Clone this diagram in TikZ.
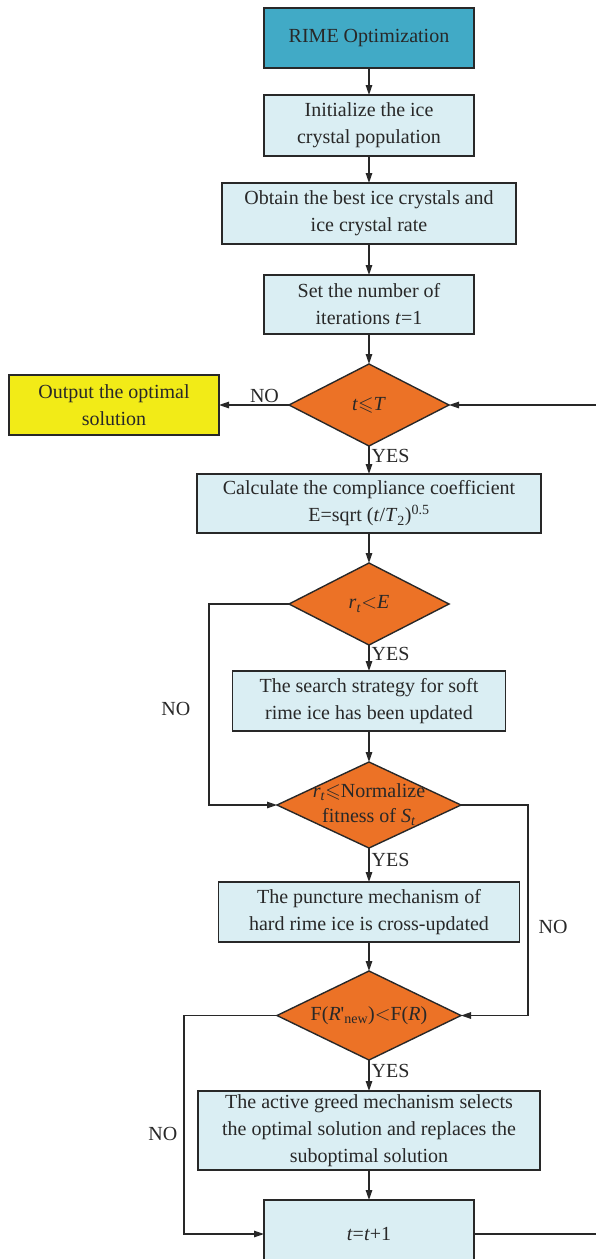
\documentclass[tikz,border=0pt]{standalone}
\usepackage{fontspec}
\setmainfont{Liberation Serif}
\usepackage{amsmath,amssymb}
\usetikzlibrary{positioning, arrows.meta, shapes.geometric}
\definecolor{rime}{RGB}{65,170,198}
\definecolor{pale}{RGB}{218,238,243}
\definecolor{flame}{RGB}{236,114,38}
\definecolor{lemon}{RGB}{242,235,23}
\definecolor{ink}{RGB}{40,40,40}

\begin{document}
\begin{tikzpicture}[
  x=1pt, y=1pt,
  node distance=29pt and 70pt,
  box/.style={draw=ink, fill=pale, line width=1.4pt, outer sep=0pt,
              minimum width=210pt, minimum height=60pt, inner sep=0pt,
              font=\fontsize{20}{27}\selectfont, align=center, text=ink},
  startbox/.style={box, fill=rime},
  endbox/.style={box, fill=lemon},
  decision/.style={diamond, draw=ink, fill=flame, line width=1.4pt, outer sep=0pt,
                   inner sep=0pt, minimum width=160pt, minimum height=82pt},
  dtext/.style={font=\fontsize{20}{25}\selectfont, align=center, text=ink},
  dlabel/.style={label={[dtext]center:#1}},
  arr/.style={-{Triangle[length=10pt,width=6.5pt]}, line width=1.3pt, color=ink},
  tag/.style={font=\fontsize{20}{24}\selectfont, text=ink, inner sep=2pt},
]
  \useasboundingbox (0,0) rectangle (595,-1259);

  \node[startbox] (rime) at (369,-38) {RIME Optimization};
  \node[box, minimum height=61pt, below=27pt of rime] (init) {Initialize the ice\\crystal population};
  \node[box, minimum width=294pt, minimum height=61pt, below=27pt of init] (best) {Obtain the best ice crystals and\\ice crystal rate};
  \node[box, minimum height=59pt, below=31pt of best] (iter) {Set the number of\\iterations \textit{t}=1};
  \node[decision, dlabel={\textit{t}$\leqslant$\textit{T}}, below=30pt of iter] (checkq) {};
  \node[endbox, left=70pt of checkq] (out) {Output the optimal\\solution};
  \node[box, minimum width=344pt, minimum height=59pt, below=28pt of checkq] (calc) {Calculate the compliance coefficient\\E=sqrt (\textit{t}/\textit{T}\textsubscript{2})\textsuperscript{0.5}};
  \node[decision, dlabel={\textit{r}\textsubscript{\textit{t}}$<$\textit{E}}, below=30pt of calc] (softq) {};
  \node[box, minimum width=273pt, below=26pt of softq] (softup) {The search strategy for soft\\rime ice has been updated};
  \node[decision, minimum width=184pt, minimum height=86pt,
        dlabel={\textit{r}\textsubscript{\textit{t}}$\leqslant$Normalize\\fitness of \textit{S}\textsubscript{\textit{t}}},
        below=31pt of softup] (hardq) {};
  \node[box, minimum width=301pt, below=34pt of hardq] (hardup) {The puncture mechanism of\\hard rime ice is cross-updated};
  \node[decision, minimum width=184pt, minimum height=89pt,
        dlabel={F(\textit{R}\textquotesingle\textsubscript{new})$<$F(\textit{R})},
        below=29pt of hardup] (greedq) {};
  \node[box, minimum width=342pt, minimum height=79pt, below=31pt of greedq] (greed) {The active greed mechanism selects\\the optimal solution and replaces the\\suboptimal solution};
  \node[box, minimum height=68pt, below=30pt of greed] (next) {\textit{t}=\textit{t}+1};

  \coordinate (loop) at (640,0);

  \draw[arr] (rime) -- (init);
  \draw[arr] (init) -- (best);
  \draw[arr] (best) -- (iter);
  \draw[arr] (iter) -- (checkq);
  \draw[arr] (checkq.west) -- node[tag, above, pos=0.35] {NO} (out.east);
  \draw[arr] (checkq.south) -- node[tag, right, pos=0.35] {YES} (calc.north);
  \draw[arr] (calc) -- (softq);
  \draw[arr] (softq.south) -- node[tag, right, pos=0.35] {YES} (softup.north);
  \draw[arr] (softup) -- (hardq);
  \draw[arr] (hardq.south) -- node[tag, right, pos=0.35] {YES} (hardup.north);
  \draw[arr] (hardup) -- (greedq);
  \draw[arr] (greedq.south) -- node[tag, right, pos=0.35] {YES} (greed.north);
  \draw[arr] (greed) -- (next);

  \draw[arr] (softq.west) -- ++(-80pt,0) |- node[tag, left=16pt, pos=0.26] {NO} (hardq.west);
  \draw[arr] (hardq.east) -- ++(67pt,0) |- node[tag, right=8pt, pos=0.29] {NO} (greedq.east);
  \draw[arr] (greedq.west) -- ++(-93pt,0) |- node[tag, left=4pt, pos=0.27] {NO} (next.west);
  \draw[arr] (next.east) -- (next.east -| loop) |- (checkq.east);
\end{tikzpicture}
\end{document}
